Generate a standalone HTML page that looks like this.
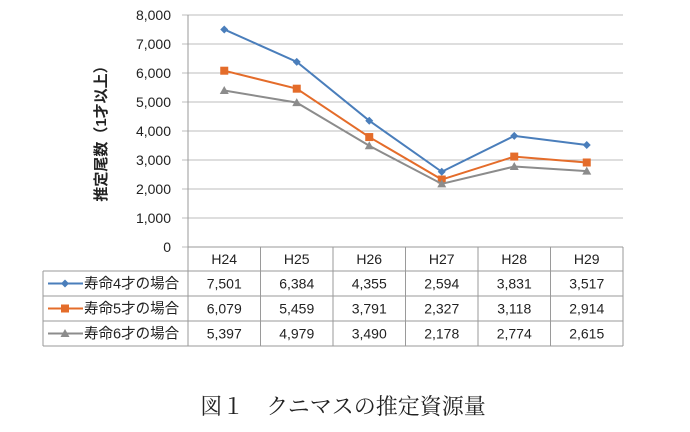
<!DOCTYPE html>
<html><head><meta charset="utf-8"><style>
body{margin:0;background:#fff;width:690px;height:427px;overflow:hidden}
svg text{font-family:"Liberation Sans","Noto Sans CJK JP",sans-serif}
</style></head><body>
<svg id="c" width="690" height="427"></svg>
<script>
const categories=["H24","H25","H26","H27","H28","H29"];
const seriesNames=["寿命4才の場合","寿命5才の場合","寿命6才の場合"];
const s4=[7501,6384,4355,2594,3831,3517];
const s5=[6079,5459,3791,2327,3118,2914];
const s6=[5397,4979,3490,2178,2774,2615];
const yTicks=[0,1000,2000,3000,4000,5000,6000,7000,8000];
const series=[s4,s5,s6];
const colors=["#4a7ebb","#e46c2a","#8c8c8c"];
const NS="http://www.w3.org/2000/svg";
const svg=document.getElementById('c');
const X0=188,CW=72.5,Y0=247,Y1=15;
const x=i=>X0+CW*(i+0.5);
const y=v=>Y0-(v/8000)*(Y0-Y1);
function el(t,a,txt){const e=document.createElementNS(NS,t);for(const k in a)e.setAttribute(k,a[k]);if(txt!=null)e.textContent=txt;svg.appendChild(e);return e;}
const fmt=v=>v.toLocaleString('en-US');
yTicks.forEach(v=>{
 const g=el('line',{x1:X0-6,x2:X0+CW*6,y1:y(v),y2:y(v),stroke:'#bdbdbd','stroke-width':1});
 
 
 const t=el('text',{x:X0-17,y:y(v)+5,'text-anchor':'end','font-size':14,fill:'#222'},fmt(v));
 
 
});
const yt=el('text',{transform:'translate(106,130) rotate(-90)','text-anchor':'middle','font-size':15,'font-weight':'bold',fill:'#222'},'推定尾数（1才以上）');


const TL=43,rows=[247,271,296,321,346];
const tc='#9a9a9a';
el('line',{x1:X0,x2:X0,y1:Y1,y2:346,stroke:tc});
for(let i=0;i<=6;i++)el('line',{x1:X0+CW*i,x2:X0+CW*i,y1:247,y2:346,stroke:tc});
el('line',{x1:TL,x2:TL,y1:271,y2:346,stroke:tc});
el('line',{x1:X0,x2:X0+CW*6,y1:247,y2:247,stroke:tc});
[271,296,321,346].forEach(r=>el('line',{x1:TL,x2:X0+CW*6,y1:r,y2:r,stroke:tc}));
categories.forEach((c,i)=>{
 const t=el('text',{x:x(i),y:264,'text-anchor':'middle','font-size':14,fill:'#222'},c);
 
 
});
function marker(k,cx,cy){
 if(k===0)return el('polygon',{points:`${cx},${cy-4} ${cx+4},${cy} ${cx},${cy+4} ${cx-4},${cy}`,fill:colors[0]});
 if(k===1)return el('rect',{x:cx-4,y:cy-4,width:8,height:8,fill:colors[1]});
 return el('polygon',{points:`${cx},${cy-4.5} ${cx+4.5},${cy+3.5} ${cx-4.5},${cy+3.5}`,fill:colors[2]});
}
series.forEach((s,k)=>{
 const p=el('polyline',{points:s.map((v,i)=>x(i)+','+y(v)).join(' '),fill:'none',stroke:colors[k],'stroke-width':2});
 
 
 s.forEach((v,i)=>{const m=marker(k,x(i),y(v));
  
  });
 const ry=(rows[k+1]+rows[k+2])/2;
 el('line',{x1:TL+5,x2:TL+40,y1:ry,y2:ry,stroke:colors[k],'stroke-width':2});
 marker(k,TL+22,ry);
 const lt=el('text',{x:TL+41,y:ry+5,'font-size':14.5,fill:'#222'},seriesNames[k]);
 
 
 s.forEach((v,i)=>{const t=el('text',{x:x(i),y:ry+5,'text-anchor':'middle','font-size':14,fill:'#222'},fmt(v));
  
  });
});
const cap=el('text',{x:343,y:414,'text-anchor':'middle','font-size':22,fill:'#222'},'図１　クニマスの推定資源量');
cap.setAttribute('style','font-family:"Liberation Serif","Noto Serif CJK SC",serif');


</script>
</body></html>
